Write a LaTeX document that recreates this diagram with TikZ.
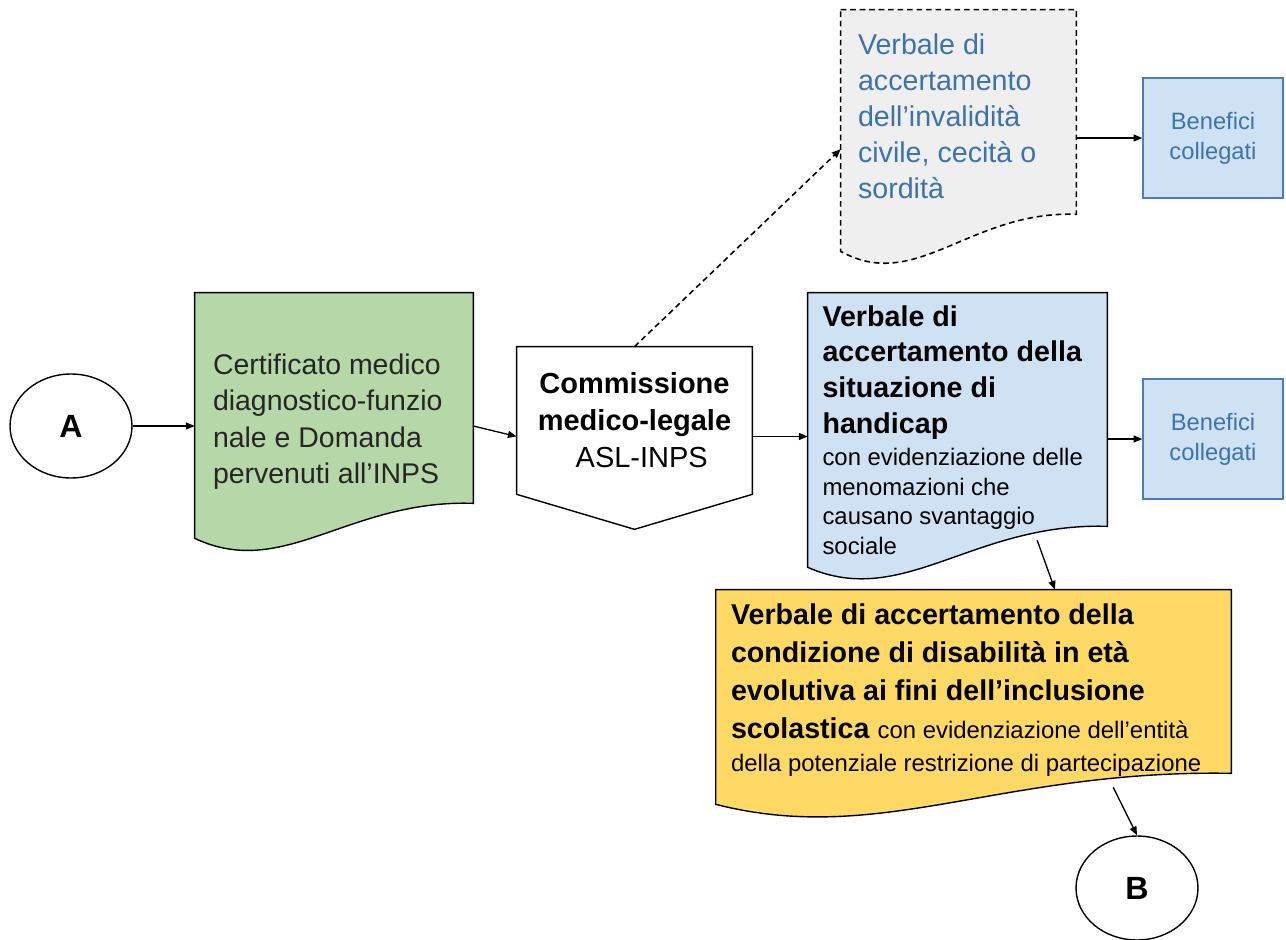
\documentclass[tikz,border=0pt]{standalone}
\usepackage{fontspec}
\setmainfont{Liberation Sans}
\usetikzlibrary{arrows.meta,shapes.geometric,calc,backgrounds}

\definecolor{docgreen}{HTML}{B6D7A8}
\definecolor{docblue}{HTML}{CFE2F3}
\definecolor{docyellow}{HTML}{FFD966}
\definecolor{docgray}{HTML}{EFEFEF}
\definecolor{textblue}{HTML}{3C72B0}
\definecolor{edgeblue}{HTML}{4A7EBB}

% outline of a document shape: node, drop of the left end below the node, rise of the right end, style
\newcommand{\docshape}[4]{%
  \path[#4] (#1.north west) -- (#1.north east) -- ($(#1.south east)+(0,#2-#3)$)
    .. controls ($(#1.south west)!0.55!(#1.south east)+(0,#2-#3-4)$)
    and ($(#1.south west)!0.32!(#1.south east)+(0,#2+42)$) .. ($(#1.south west)+(0,#2)$) -- cycle;}

\begin{document}
\begin{tikzpicture}[x=0.02cm, y=-0.02cm,
    conn/.style = {ellipse, draw, line width=0.8pt, minimum width=2.44cm, minimum height=2.08cm, font=\fontsize{18.3}{22}\selectfont\bfseries},
    doc/.style = {rectangle, align=flush left, inner xsep=0.36cm, inner ysep=0pt},
    ben/.style = {rectangle, draw=edgeblue, fill=docblue, line width=0.8pt, minimum width=2.8cm, minimum height=2.4cm, align=center, text=textblue, font=\fontsize{13.5}{17}\selectfont},
    arr/.style = {-{Triangle[length=5pt,width=4pt]}, line width=0.75pt},
    outline/.style = {draw, line width=0.8pt},
    dashline/.style = {line width=0.9pt, dash pattern=on 3.2pt off 2.2pt}]
    \useasboundingbox (0,0) rectangle (1286,940);

    \node[conn] (A) at (71,426) {A};
    \node[doc, text width=4.84cm, minimum height=5.14cm, text=black!85, font=\fontsize{16.2}{20.7}\selectfont] (cert) at (334,421.5)
        {Certificato medico\\ diagnostico-funzio\\ nale e Domanda\\ pervenuti all’INPS};
    \node[minimum width=4.7cm, minimum height=2.94cm, align=center, font=\fontsize{16.5}{21}\selectfont] (comm) at (634.5,420.5)
        {\textbf{Commissione}\\ \textbf{medico-legale}\\ \hspace*{0.5em}ASL-INPS};
    \node[doc, inner xsep=0.34cm, text width=4.02cm, minimum height=4.24cm, text=textblue, font=\fontsize{16.3}{20.5}\selectfont] (verbinv) at (958.5,116)
        {Verbale di\\ accertamento\\ dell’invalidità\\ civile, cecità o\\ sordità};
    \node[doc, inner xsep=0.29cm, text width=5.4cm, minimum height=5.48cm] (verbhand) at (957.5,430)
        {{\fontsize{16.3}{20.3}\selectfont\bfseries Verbale di\\ accertamento della\\ situazione di\\ handicap\par}\vspace{1.5pt}%
         {\fontsize{13.6}{16.9}\selectfont con evidenziazione delle\\ menomazioni che\\ causano svantaggio\\ sociale\par}};
    \node[doc, inner xsep=0.3cm, text width=9.7cm, minimum height=4cm, font=\fontsize{16.3}{21.6}\selectfont] (verbdis) at (973.5,690)
        {\textbf{Verbale di accertamento della\\ condizione di disabilità in età\\ evolutiva ai fini dell’inclusione\\ scolastica}
         {\fontsize{13.6}{21.6}\selectfont con evidenziazione dell’entità\\[-2.8pt] della potenziale restrizione di partecipazione}};
    \node[ben] (ben1) at (1213,138) {Benefici\\ collegati};
    \node[ben] (ben2) at (1213,439) {Benefici\\ collegati};
    \node[conn] (B) at (1137,888) {B};

    \begin{scope}[on background layer]
        \docshape{cert}{-12}{35}{outline, fill=docgreen}
        \docshape{verbinv}{29}{37}{outline, dashline, fill=docgray}
        \docshape{verbhand}{0}{41}{outline, fill=docblue}
        \docshape{verbdis}{14}{31}{outline, fill=docyellow}
        \draw[outline, fill=white] (comm.north west) -- (comm.north east) -- (comm.south east)
            -- ($(comm.south)+(0,35)$) -- (comm.south west) -- cycle;
    \end{scope}

    \coordinate (commin) at ($(comm.west)+(0,16)$);
    \coordinate (commout) at ($(comm.east)+(0,16)$);
    \draw[arr] (A.east) -- (A.east -| cert.west);
    \draw[arr] (A.east -| cert.east) -- (commin);
    \draw[arr, dashline] (comm.north) -- ($(verbinv.north west)!0.656!(verbinv.south west)$);
    \draw[arr] (commout) -- (commout -| verbhand.west);
    \draw[arr] (verbinv.east |- ben1.west) -- (ben1.west);
    \draw[arr] (verbhand.east |- ben2.west) -- (ben2.west);
    \draw[arr] ($(verbhand.south west)!0.766!(verbhand.south east)+(0,-27)$) -- ($(verbdis.north west)!0.658!(verbdis.north east)$);
    \draw[arr] ($(verbdis.south west)!0.771!(verbdis.south east)+(0,-3)$) -- (B.north);
\end{tikzpicture}
\end{document}
